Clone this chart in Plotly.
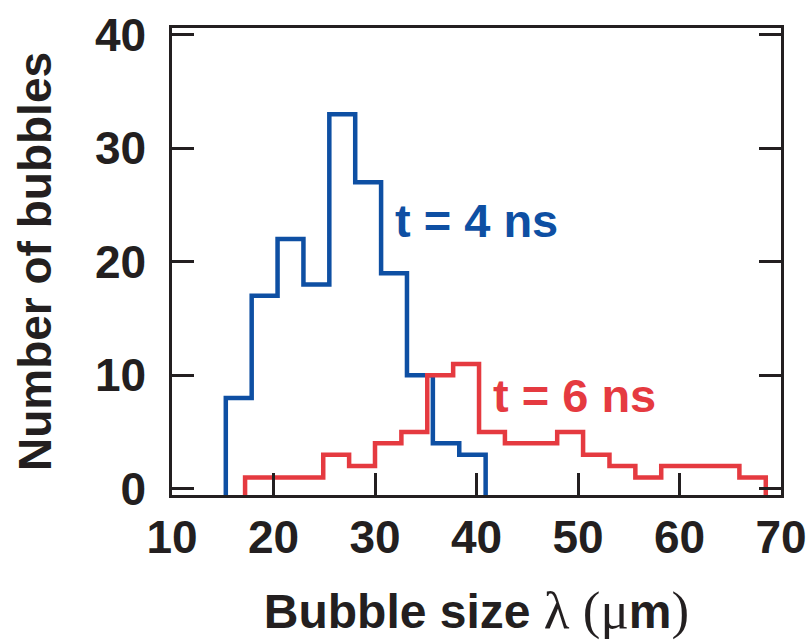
import plotly.graph_objects as go

# ---- data ----
blue_edges = [15.3, 17.85, 20.4, 22.95, 25.5, 28.05, 30.6, 33.15, 35.7, 38.3, 40.9]
blue_counts = [8, 17, 22, 18, 33, 27, 19, 10, 4, 3]

red_edges = [17.2, 19.75, 22.3, 24.9, 27.45, 30.0, 32.6, 35.15, 37.7, 40.25, 42.8,
             45.4, 47.95, 50.5, 53.1, 55.65, 58.2, 60.8, 63.35, 65.9, 68.5]
red_counts = [1, 1, 1, 3, 2, 4, 5, 10, 11, 5, 4, 4, 5, 3, 2, 1, 2, 2, 2, 1]

x_ticks = [10, 20, 30, 40, 50, 60, 70]
y_ticks = [0, 10, 20, 30, 40]

label_blue = "t = 4 ns"
label_red = "t = 6 ns"

BLUE = "#0E4FA3"
RED = "#E53A40"
INK = "#231F20"
Y_RANGE = [-0.55, 40.6]
X_RANGE = [10, 70]


def step_xy(edges, counts, base):
    xs = [edges[0]] + edges[:-1] + [edges[-1], edges[-1]]
    ys = [base] + counts + [counts[-1], base]
    return xs, ys


fig = go.Figure()
for edges, counts, col in [(blue_edges, blue_counts, BLUE), (red_edges, red_counts, RED)]:
    xs, ys = step_xy(edges, counts, Y_RANGE[0])
    fig.add_trace(go.Scatter(x=xs, y=ys, mode="lines", line=dict(color=col, width=4.5, shape="hv"),
                             showlegend=False, hoverinfo="skip"))

fig.add_annotation(x=31.8, y=23.6, text="<b>" + label_blue + "</b>", showarrow=False,
                   xanchor="left", yanchor="middle", font=dict(family="Liberation Sans, Arial", size=47, color=BLUE))
fig.add_annotation(x=41.4, y=8.2, text="<b>" + label_red + "</b>", showarrow=False,
                   xanchor="left", yanchor="middle", font=dict(family="Liberation Sans, Arial", size=47, color=RED))

tickfont = dict(family="Liberation Sans, Arial", size=46, color=INK, weight="bold")
serif = "font-family:Liberation Serif;font-weight:normal;font-size:53px"
x_title = ("<b>Bubble size</b> <span style='" + serif + "'>λ (μ</span><b>m</b>"
           "<span style='" + serif + "'>)</span>")

fig.update_layout(
    width=809, height=641,
    margin=dict(l=172, r=28, t=28, b=146, autoexpand=False),
    paper_bgcolor="white", plot_bgcolor="white",
    font=dict(family="Liberation Sans, Arial", color=INK),
    xaxis=dict(range=X_RANGE, tickvals=x_ticks, ticktext=[str(v) for v in x_ticks],
               showgrid=False, zeroline=False, showline=True, linecolor=INK, linewidth=2.5,
               mirror=True, ticks="inside", ticklen=22, tickwidth=3, tickcolor=INK,
               tickfont=tickfont, ticklabelstandoff=0, automargin=False,
               title=dict(text=x_title,
                          font=dict(family="Liberation Sans, Arial", size=48, color=INK), standoff=33)),
    yaxis=dict(range=Y_RANGE, tickvals=y_ticks, ticktext=[str(v) for v in y_ticks],
               showgrid=False, zeroline=False, showline=True, linecolor=INK, linewidth=2.5,
               mirror="ticks", ticks="inside", ticklen=22, tickwidth=3, tickcolor=INK,
               tickfont=tickfont, ticklabelstandoff=14, automargin=False,
               title=dict(text="<b>Number of bubbles</b>",
                          font=dict(family="Liberation Sans, Arial", size=46, color=INK), standoff=29)),
)

fig.write_html("out.html")
